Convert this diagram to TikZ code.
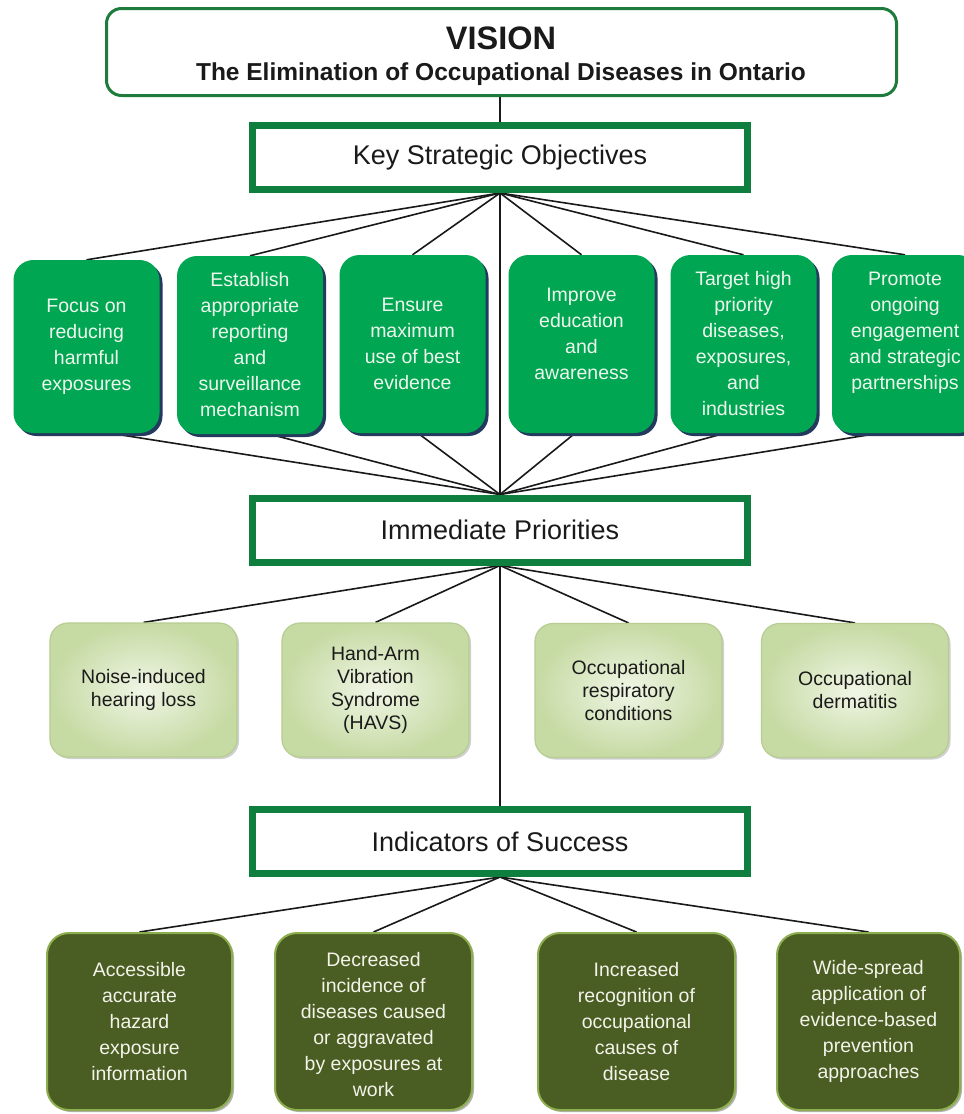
\documentclass[tikz,border=0pt]{standalone}
\usepackage{fontspec}
\setmainfont{Liberation Sans}
\usetikzlibrary{shadows}
\pgfdeclarelayer{background}
\pgfsetlayers{background,main}

\definecolor{visgreen}{HTML}{1F7B3B}
\definecolor{framegreen}{HTML}{0E7F3E}
\definecolor{objgreen}{HTML}{00A651}
\definecolor{objshadow}{HTML}{233A5E}
\definecolor{objtext}{HTML}{EEF7EE}
\definecolor{prioout}{HTML}{C6DAA3}
\definecolor{prioin}{HTML}{F0F6E6}
\definecolor{prioedge}{HTML}{B7CD92}
\definecolor{indfill}{HTML}{4A5D22}
\definecolor{indedge}{HTML}{8DAE4E}
\definecolor{indtext}{HTML}{F3F3EA}
\definecolor{ink}{HTML}{1A1A1A}

\tikzset{
  link/.style={draw=black!90, line width=1.6pt},
  visionbox/.style={draw=visgreen, line width=3pt, rounded corners=15pt, fill=white,
    minimum width=790pt, minimum height=87pt, inner sep=0pt},
  framebox/.style={draw=framegreen, line width=6pt, fill=white, text=ink,
    minimum width=496pt, minimum height=65pt, inner sep=0pt,
    font=\fontsize{27}{30}\selectfont},
  innerframe/.style={draw=framegreen, line width=2pt},
  objbox/.style={fill=objgreen, rounded corners=20pt, inner sep=0pt,
    minimum width=146pt, minimum height=178pt,
    drop shadow={shadow xshift=3pt, shadow yshift=-3pt, fill=objshadow, opacity=1}},
  priobox/.style={draw=prioedge, line width=1.2pt, rounded corners=18pt, inner sep=0pt,
    shading=radial, inner color=prioin, outer color=prioout,
    minimum width=187pt, minimum height=134pt,
    drop shadow={shadow xshift=2pt, shadow yshift=-2pt, fill=gray!60, opacity=.6}},
  indbox/.style={draw=indedge, line width=2pt, fill=indfill, rounded corners=22pt, inner sep=0pt,
    minimum height=177pt,
    drop shadow={shadow xshift=2pt, shadow yshift=-2pt, fill=black!60, opacity=.5}},
  objtxt/.style={text=objtext, align=center, inner sep=0pt, font=\fontsize{19.5}{26}\selectfont},
  priotxt/.style={text=ink, align=center, inner sep=0pt, font=\fontsize{19.5}{23}\selectfont},
  indtxt/.style={text=indtext, align=center, inner sep=0pt, font=\fontsize{19.5}{26}\selectfont},
}

\begin{document}
\begin{tikzpicture}[x=1pt, y=-1pt]
\useasboundingbox (0,0) rectangle (964,1114);
\clip (0,0) rectangle (964,1114);

% vision
\node[visionbox] (vis) at (501.5,52) {};
\node[anchor=base, text=ink, font=\fontsize{32.5}{36}\selectfont\bfseries] (vtitle) at (501,49) {VISION};
\node[anchor=base, text=ink, font=\fontsize{24.5}{28}\selectfont\bfseries] (vsub) at (501,80)
  {The Elimination of Occupational Diseases in Ontario};

% section headers
\node[framebox] (kso) at (500,157.5) {Key Strategic Objectives};
\node[framebox] (ip)  at (500,530)   {Immediate Priorities};
\node[framebox] (is)  at (500,841.5) {Indicators of Success};
\foreach \n in {kso,ip,is}
  \draw[innerframe] ([shift={(6pt,-6pt)}]\n.north west) rectangle ([shift={(-6pt,6pt)}]\n.south east);

% key strategic objectives
\node[objbox, minimum height=173pt] (k1) at (86.5,346.5) {};
\node[objbox] (k2) at (250,345) {};
\node[objbox] (k3) at (412.5,344) {};
\node[objbox] (k4) at (581.5,344) {};
\node[objbox] (k5) at (743.5,344) {};
\node[objbox] (k6) at (905,344) {};
\node[objtxt] (k1t) at (k1.center) {Focus on\\reducing\\harmful\\exposures};
\node[objtxt] (k2t) at (k2.center) {Establish\\appropriate\\reporting\\and\\surveillance\\mechanism};
\node[objtxt] (k3t) at (k3.center) {Ensure\\maximum\\use of best\\evidence};
\node[objtxt] (k4t) at ([yshift=10pt]k4.center) {Improve\\education\\and\\awareness};
\node[objtxt] (k5t) at (k5.center) {Target high\\priority\\diseases,\\exposures,\\and\\industries};
\node[objtxt] (k6t) at ([yshift=11pt]k6.center) {Promote\\ongoing\\engagement\\and strategic\\partnerships};

% immediate priorities
\node[priobox] (p1) at (143.5,690) {};
\node[priobox] (p2) at (375.5,690) {};
\node[priobox] (p3) at (628.5,690.5) {};
\node[priobox] (p4) at (855,690.5) {};
\node[priotxt] (p1t) at (p1.center) {Noise-induced\\hearing loss};
\node[priotxt] (p2t) at (p2.center) {Hand-Arm\\Vibration\\Syndrome\\(HAVS)};
\node[priotxt] (p3t) at (p3.center) {Occupational\\respiratory\\conditions};
\node[priotxt] (p4t) at (p4.center) {Occupational\\dermatitis};

% indicators of success
\node[indbox, minimum width=185pt] (d1) at (139.5,1021.5) {};
\node[indbox, minimum width=197pt] (d2) at (373.5,1021.5) {};
\node[indbox, minimum width=197pt] (d3) at (636.5,1021.5) {};
\node[indbox, minimum width=183pt] (d4) at (868.5,1021.5) {};
\node[indtxt] (d1t) at (d1.center) {Accessible\\accurate\\hazard\\exposure\\information};
\node[indtxt] (d2t) at ([yshift=-3pt]d2.center) {Decreased\\incidence of\\diseases caused\\or aggravated\\by exposures at\\work};
\node[indtxt] (d3t) at (d3.center) {Increased\\recognition of\\occupational\\causes of\\disease};
\node[indtxt] (d4t) at (d4.center) {Wide-spread\\application of\\evidence-based\\prevention\\approaches};

% connectors, drawn underneath the boxes
\begin{pgfonlayer}{background}
  \fill[white] (0,0) rectangle (964,1114);
  \draw[link] (vis.south -| kso.north) -- (kso.north);
  \foreach \n in {k1,k2,k3,k4,k5,k6}
    \draw[link] (kso.south) -- (\n.north);
  \draw[link] (kso.south) -- (ip.north);
  \draw[link] ([xshift=23.5pt]k1.south) -- (ip.north);
  \draw[link] ([xshift=20pt]k2.south) -- (ip.north);
  \draw[link] ([xshift=5.5pt]k3.south) -- (ip.north);
  \draw[link] ([xshift=-6.5pt]k4.south) -- (ip.north);
  \draw[link] ([xshift=-18.5pt]k5.south) -- (ip.north);
  \draw[link] ([xshift=-26pt]k6.south) -- (ip.north);
  \foreach \n in {p1,p2,p3,p4}
    \draw[link] (ip.south) -- (\n.north);
  \draw[link] (ip.south) -- (is.north);
  \foreach \n in {d1,d2,d3,d4}
    \draw[link] (is.south) -- (\n.north);
\end{pgfonlayer}
\end{tikzpicture}
\end{document}
